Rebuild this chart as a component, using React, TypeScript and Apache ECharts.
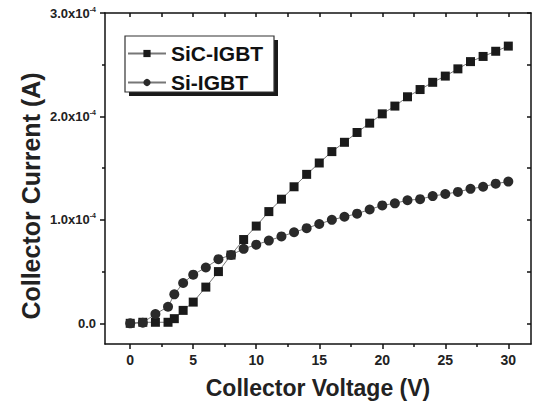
import React, { useEffect, useRef } from "react";
import * as echarts from "echarts";

const voltage = [0, 1, 2, 3, 3.5, 4.2, 5, 6, 7, 8, 9, 10, 11, 12, 13, 14, 15, 16, 17, 18, 19, 20, 21, 22, 23, 24, 25, 26, 27, 28, 29, 30];
// collector current in units of 1e-4 A
const sicIgbt = [0, 0.01, 0.01, 0.01, 0.045, 0.125, 0.205, 0.35, 0.5, 0.66, 0.81, 0.94, 1.08, 1.2, 1.32, 1.44, 1.55, 1.66, 1.75, 1.845, 1.935, 2.025, 2.1, 2.19, 2.26, 2.33, 2.39, 2.46, 2.53, 2.58, 2.63, 2.68];
const siIgbt = [0, 0.006, 0.09, 0.16, 0.28, 0.39, 0.47, 0.54, 0.62, 0.66, 0.72, 0.76, 0.8, 0.84, 0.88, 0.92, 0.96, 1.0, 1.03, 1.06, 1.1, 1.14, 1.16, 1.19, 1.2, 1.23, 1.25, 1.27, 1.3, 1.32, 1.35, 1.37];

const xMajorTicks = [0, 5, 10, 15, 20, 25, 30];
const xMinorTicks = [2.5, 7.5, 12.5, 17.5, 22.5, 27.5];
const yMajorTicks = [0, 1, 2, 3];
const yMinorTicks = [0.5, 1.5, 2.5];
const seriesNames = ["SiC-IGBT", "Si-IGBT"];
const xTitle = "Collector Voltage (V)";
const yTitle = "Collector Current (A)";

const FONT = "Liberation Sans, Arial, sans-serif";

export default function App() {
  const ref = useRef<HTMLDivElement>(null);
  useEffect(() => {
    if (!ref.current) return;
    const chart = echarts.init(ref.current, undefined, { renderer: "svg" });
    const axisLine = { show: true, onZero: false, lineStyle: { color: "#111", width: 1.5 } };
    const hidden = { show: false };
    const noLine = { show: false, onZero: false };
    const xBase = { type: "value", min: -2, max: 31.8, splitLine: hidden };
    const yBase = { type: "value", min: -0.2, max: 3.0, splitLine: hidden };
    chart.setOption({
      animation: false,
      backgroundColor: "#ffffff",
      grid: { left: 105, right: 6, top: 13, bottom: 66, containLabel: false },
      xAxis: [
        {
          ...xBase,
          position: "bottom",
          axisLine,
          axisTick: { show: true, customValues: xMajorTicks, length: 5, lineStyle: { color: "#111", width: 1.5 } },
          axisLabel: {
            customValues: xMajorTicks,
            margin: 9,
            color: "#222",
            fontFamily: FONT,
            fontWeight: "bold",
            fontSize: 14,
          },
          name: xTitle,
          nameLocation: "middle",
          nameGap: 32,
          nameTextStyle: { fontFamily: FONT, fontWeight: "bold", fontSize: 23, color: "#222" },
        },
        {
          ...xBase,
          position: "bottom",
          axisLine: noLine,
          axisTick: { show: true, customValues: xMinorTicks, length: 3, lineStyle: { color: "#111", width: 1.5 } },
          axisLabel: hidden,
        },
        {
          ...xBase,
          position: "top",
          axisLine,
          axisTick: { show: true, inside: true, customValues: [...xMajorTicks, ...xMinorTicks], length: 4, lineStyle: { color: "#111", width: 1.5 } },
          axisLabel: hidden,
        },
      ],
      yAxis: [
        {
          ...yBase,
          position: "left",
          axisLine,
          axisTick: { show: true, customValues: yMajorTicks, length: 5, lineStyle: { color: "#111", width: 1.5 } },
          axisLabel: {
            customValues: yMajorTicks,
            margin: 9,
            color: "#222",
            fontFamily: FONT,
            fontWeight: "bold",
            fontSize: 13,
            formatter: (v: number) => (v === 0 ? "{a|0.0}" : `{a|${v.toFixed(1)}x10}{s|-4}`),
            rich: {
              a: { fontFamily: FONT, fontWeight: "bold", fontSize: 13, color: "#222", lineHeight: 15 },
              s: { fontFamily: FONT, fontWeight: "bold", fontSize: 7, color: "#222", verticalAlign: "top", lineHeight: 15 },
            },
          },
        },
        {
          ...yBase,
          position: "left",
          axisLine: noLine,
          axisTick: { show: true, customValues: yMinorTicks, length: 3, lineStyle: { color: "#111", width: 1.5 } },
          axisLabel: hidden,
        },
        {
          ...yBase,
          position: "right",
          axisLine,
          axisTick: { show: true, inside: true, customValues: [...yMajorTicks, ...yMinorTicks], length: 4, lineStyle: { color: "#111", width: 1.5 } },
          axisLabel: hidden,
        },
      ],
      legend: {
        orient: "vertical",
        left: 127,
        top: 42,
        padding: 0,
        z: 10,
        itemWidth: 38,
        itemHeight: 9,
        itemGap: 6,
        data: seriesNames,
        textStyle: { fontFamily: FONT, fontWeight: "bold", fontSize: 21, color: "#111", lineHeight: 23 },
      },
      graphic: [
        { type: "rect", z: 1, shape: { x: 129, y: 40, width: 149, height: 56 }, style: { fill: "#1a1a1a" } },
        { type: "rect", z: 2, shape: { x: 125, y: 36, width: 149, height: 56 }, style: { fill: "#fff", stroke: "#333", lineWidth: 1.2 } },
        {
          type: "text",
          z: 5,
          x: 31,
          y: 196,
          rotation: Math.PI / 2,
          style: { text: yTitle, fontFamily: FONT, fontWeight: "bold", fontSize: 25, fill: "#222", align: "center", verticalAlign: "middle" },
        },
      ],
      series: [
        {
          name: seriesNames[0],
          type: "line",
          xAxisIndex: 0,
          yAxisIndex: 0,
          data: voltage.map((v, i) => [v, sicIgbt[i]]),
          symbol: "rect",
          symbolSize: 9,
          lineStyle: { color: "#777", width: 1 },
          itemStyle: { color: "#1a1a1a" },
          z: 3,
        },
        {
          name: seriesNames[1],
          type: "line",
          xAxisIndex: 0,
          yAxisIndex: 0,
          data: voltage.map((v, i) => [v, siIgbt[i]]),
          symbol: "circle",
          symbolSize: 10,
          lineStyle: { color: "#777", width: 1 },
          itemStyle: { color: "#2a2a2a" },
          z: 3,
        },
      ],
    });
    return () => chart.dispose();
  }, []);
  return <div ref={ref} style={{ position: "fixed", left: 0, top: 0, width: 537, height: 410 }} />;
}
